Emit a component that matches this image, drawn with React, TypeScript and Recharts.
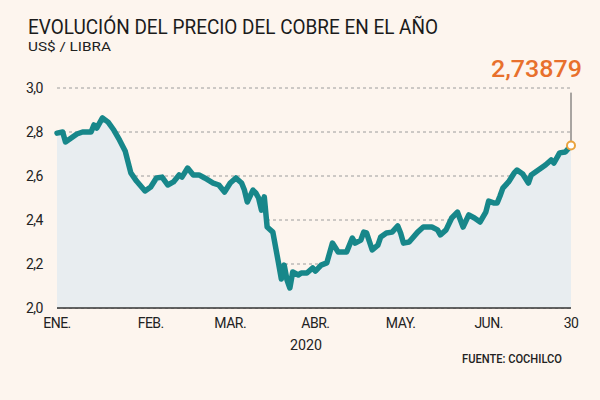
import React from "react";
import {
  ComposedChart,
  Area,
  XAxis,
  YAxis,
  CartesianGrid,
  ReferenceLine,
  ReferenceDot,
} from "recharts";

// Day of year 2020 (1 Jan = 0) for each sampled quote
const days = [
  0, 2, 3, 5, 7, 9, 12, 13, 14, 16, 18, 20, 22, 24, 25, 26, 28, 31, 33, 35,
  37, 39, 41, 43, 44, 46, 48, 50, 52, 55, 57, 59, 61, 63, 65, 66, 67, 69, 70,
  71, 72, 73, 74, 76, 78, 79, 80, 81, 82, 83, 85, 86, 88, 90, 91, 93, 95, 97,
  99, 100, 102, 104, 105, 107, 108, 109, 111, 113, 114, 116, 118, 120, 121,
  122, 124, 127, 129, 132, 134, 135, 137, 139, 141, 143, 145, 147, 149, 151,
  152, 154, 155, 156, 157, 159, 161, 162, 164, 166, 167, 168, 170, 172, 174,
  175, 177, 179, 181,
];

// Copper price, US$ per pound
const price = [
  2.795, 2.8, 2.755, 2.773, 2.791, 2.8, 2.8, 2.832, 2.818, 2.864, 2.845, 2.809,
  2.764, 2.714, 2.664, 2.614, 2.577, 2.532, 2.55, 2.591, 2.595, 2.559, 2.573,
  2.605, 2.595, 2.636, 2.605, 2.605, 2.591, 2.568, 2.559, 2.527, 2.568, 2.591,
  2.568, 2.536, 2.482, 2.536, 2.523, 2.5, 2.445, 2.505, 2.368, 2.345, 2.205,
  2.132, 2.195, 2.127, 2.091, 2.164, 2.15, 2.159, 2.159, 2.182, 2.168, 2.195,
  2.205, 2.295, 2.255, 2.255, 2.255, 2.318, 2.295, 2.309, 2.345, 2.341, 2.264,
  2.286, 2.323, 2.341, 2.345, 2.373, 2.341, 2.295, 2.3, 2.345, 2.368, 2.368,
  2.355, 2.332, 2.355, 2.409, 2.436, 2.368, 2.423, 2.409, 2.391, 2.436, 2.486,
  2.477, 2.477, 2.509, 2.545, 2.573, 2.614, 2.627, 2.609, 2.568, 2.605, 2.614,
  2.632, 2.65, 2.673, 2.659, 2.705, 2.709, 2.73879,
];

// Month ticks (first trading day) and closing day
const xTicks = [0, 33, 61, 91, 121, 152, 181];
const xTickLabels = ["ENE.", "FEB.", "MAR.", "ABR.", "MAY.", "JUN.", "30"];
const yTicks = [2.0, 2.2, 2.4, 2.6, 2.8, 3.0];

const data = days.map((d, i) => ({ day: d, price: price[i] }));
const lastDay = days[days.length - 1];
const lastPrice = price[price.length - 1];

const BG = "#fdf5ee";
const TEAL = "#17878a";
const FONT = "Roboto, 'Noto Sans', sans-serif";

const fmtComma = (v: number, digits: number) =>
  v.toFixed(digits).replace(".", ",");

const XTick = (props: any) => {
  const { x, y, payload } = props;
  const idx = xTicks.indexOf(payload.value);
  return (
    <text
      x={x}
      y={y + 12}
      textAnchor="middle"
      fontSize={14}
      fontFamily={FONT}
      letterSpacing={-0.5}
      fill="#222"
    >
      {xTickLabels[idx]}
    </text>
  );
};

const YTick = (props: any) => {
  const { x, y, payload } = props;
  return (
    <text
      x={x}
      y={y + 5}
      textAnchor="end"
      fontSize={14}
      fontFamily={FONT}
      letterSpacing={-0.5}
      fill="#222"
    >
      {fmtComma(payload.value, 1)}
    </text>
  );
};

// Closing value written above the end-of-period marker
const ValueLabel = (props: any) => {
  const { cx, cy } = props;
  return (
    <text
      x={cx + 11}
      y={cy - 11}
      textAnchor="end"
      fontSize={24}
      fontWeight={500}
      fontFamily={FONT}
      fill="#e8702c"
      textLength={91}
      lengthAdjust="spacingAndGlyphs"
    >
      {fmtComma(lastPrice, 5)}
    </text>
  );
};

export default function App() {
  return (
    <div
      style={{
        position: "absolute",
        left: 0,
        top: 0,
        width: 600,
        height: 400,
        background: BG,
        overflow: "hidden",
      }}
    >
      <svg
        width={600}
        height={400}
        style={{ position: "absolute", left: 0, top: 0 }}
      >
        <text
          x={28}
          y={34}
          fontSize={20}
          fontFamily={FONT}
          fill="#1b1b1b"
          textLength={410}
          lengthAdjust="spacingAndGlyphs"
        >
          EVOLUCIÓN DEL PRECIO DEL COBRE EN EL AÑO
        </text>
        <text
          x={28}
          y={51}
          fontSize={12}
          fontFamily={FONT}
          fill="#222"
          textLength={83}
          lengthAdjust="spacingAndGlyphs"
        >
          US$ / LIBRA
        </text>
        <text
          x={306}
          y={350}
          textAnchor="middle"
          fontSize={15.5}
          fontFamily={FONT}
          fill="#222"
          textLength={32}
          lengthAdjust="spacingAndGlyphs"
        >
          2020
        </text>
        <text
          x={462}
          y={362.5}
          fontSize={12}
          fontWeight={500}
          fontFamily={FONT}
          fill="#222"
          textLength={100}
          lengthAdjust="spacingAndGlyphs"
        >
          FUENTE: COCHILCO
        </text>
      </svg>
      <div style={{ position: "absolute", left: 0, top: 0 }}>
        <ComposedChart
          width={600}
          height={400}
          data={data}
          margin={{ top: 88, right: 29, bottom: 62, left: 0 }}
        >
          <CartesianGrid
            horizontal
            vertical={false}
            stroke="#9c9c9c"
            strokeDasharray="3 3"
          />
          <XAxis
            dataKey="day"
            type="number"
            domain={[0, 181]}
            ticks={xTicks}
            interval={0}
            height={30}
            tick={<XTick />}
            tickLine={false}
            axisLine={{ stroke: "#333", strokeWidth: 1.5 }}
          />
          <YAxis
            type="number"
            domain={[2, 3]}
            ticks={yTicks}
            width={57}
            tick={<YTick />}
            tickLine={false}
            axisLine={false}
            tickMargin={8}
          />
          <Area
            type="linear"
            dataKey="price"
            baseValue={2}
            stroke={TEAL}
            strokeWidth={5.5}
            strokeLinejoin="round"
            strokeLinecap="round"
            fill="#e8edf0"
            fillOpacity={1}
            dot={false}
            activeDot={false}
            isAnimationActive={false}
          />
          <ReferenceLine
            segment={[
              { x: lastDay, y: lastPrice },
              { x: lastDay, y: 2.979 },
            ]}
            stroke="#555"
            strokeWidth={1}
            ifOverflow="visible"
          />
          <ReferenceDot
            x={lastDay}
            y={lastPrice}
            r={4}
            fill="#ffffff"
            stroke="#eaa33d"
            strokeWidth={2}
            ifOverflow="visible"
          />
          <ReferenceDot
            x={lastDay}
            y={3}
            r={0}
            ifOverflow="visible"
            shape={<ValueLabel />}
          />
        </ComposedChart>
      </div>
    </div>
  );
}
